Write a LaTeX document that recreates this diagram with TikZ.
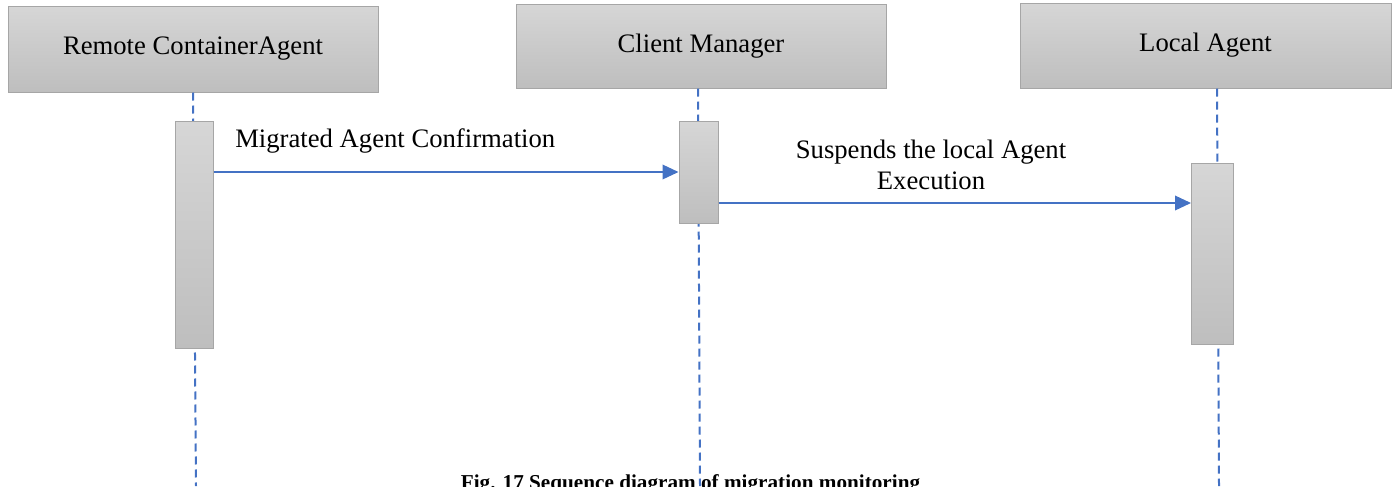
\documentclass[tikz,border=0pt]{standalone}
\usepackage{fontspec}
\setmainfont{Liberation Serif}
\usetikzlibrary{arrows.meta}
\definecolor{lineblue}{HTML}{4472C4}
\definecolor{boxtop}{HTML}{D6D6D6}
\definecolor{boxbottom}{HTML}{BEBEBE}
\definecolor{boxedge}{HTML}{A6A6A6}
\def\px{0.75pt}

\begin{document}
\begin{tikzpicture}[x=\px, y=-\px,
		header/.style={draw=boxedge, line width=0.75pt, top color=boxtop, bottom color=boxbottom, inner sep=0pt, font=\fontsize{20}{24}\selectfont},
		activation/.style={draw=boxedge, line width=0.75pt, top color=boxtop, bottom color=boxbottom, inner sep=0pt},
		lifeline/.style={draw=lineblue, line width=1.5pt, dash pattern=on 6pt off 3.75pt},
		message/.style={draw=lineblue, line width=1.1pt, -{Triangle[length=12pt, width=11pt]}},
		msglabel/.style={inner sep=0pt, font=\fontsize{20}{23.25}\selectfont}]
			%%%%% START %%%%%
			
			\useasboundingbox (0,0) rectangle (1395,486);
			
			% lifeline heads
			\node[header, minimum width=277.5pt, minimum height=64.5pt] (remote) at (193,49) {Remote ContainerAgent};
			\node[header, minimum width=277.5pt, minimum height=63pt] (manager) at (701,46) {Client Manager};
			\node[header, minimum width=278.25pt, minimum height=63.75pt] (local) at (1205.5,45.5) {Local Agent};
			
			% lifelines
			\coordinate (remote start) at (193,0);
			\coordinate (manager start) at (698,0);
			\coordinate (local start) at (1217,0);
			\coordinate (remote end) at (196,486);
			\coordinate (manager end) at (700,486);
			\coordinate (local end) at (1219,486);
			\draw[lifeline] (remote.south -| remote start) -- (remote end);
			\draw[lifeline] (manager.south -| manager start) -- (manager end);
			\draw[lifeline] (local.south -| local start) -- (local end);
			
			% activations
			\node[activation, minimum width=28.5pt, minimum height=170.25pt] (act remote) at (194,234.5) {};
			\node[activation, minimum width=29.25pt, minimum height=76.5pt] (act manager) at (698.5,172) {};
			\node[activation, minimum width=31.5pt, minimum height=135.75pt] (act local) at (1212.5,253.5) {};
			
			% messages
			\coordinate (m1) at (0,172);
			\coordinate (m2) at (0,203);
			\draw[message] (act remote.east |- m1) -- (act manager.west |- m1);
			\draw[message] (act manager.east |- m2) -- (act local.west |- m2);
			
			\node[msglabel, anchor=base west] (m1 text) at (235,147) {Migrated Agent Confirmation};
			\node[msglabel, anchor=north, align=center] (m2 text) at (931,140) {Suspends the local Agent\\Execution};
			
			% caption
			\node[inner sep=0pt, anchor=base, font=\bfseries\fontsize{15.9}{19}\selectfont] (caption) at (690.5,489) {Fig. 17 Sequence diagram of migration monitoring};
			
			%%%%% END %%%%%
		\end{tikzpicture}
\end{document}
